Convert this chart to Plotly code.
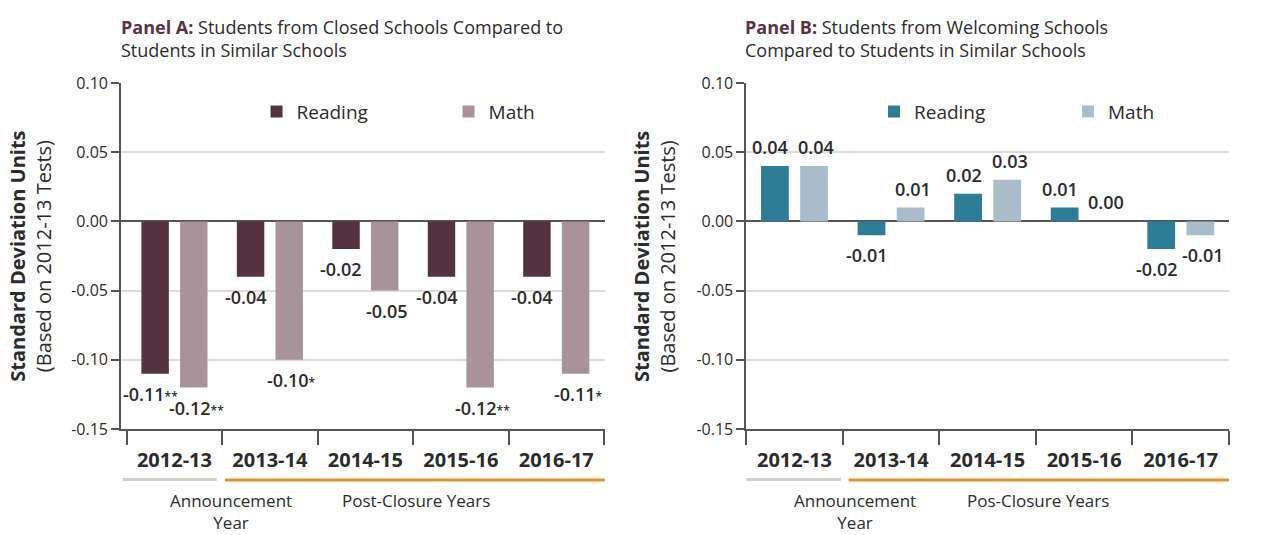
import plotly.graph_objects as go

# School years shown on both panels
years = ["2012-13", "2013-14", "2014-15", "2015-16", "2016-17"]

# Panel A: students from closed schools vs. students in similar schools
closed_reading = [-0.11, -0.04, -0.02, -0.04, -0.04]
closed_math = [-0.12, -0.10, -0.05, -0.12, -0.11]
closed_reading_sig = ["**", "", "", "", ""]
closed_math_sig = ["**", "*", "", "**", "*"]

# Panel B: students from welcoming schools vs. students in similar schools
welcoming_reading = [0.04, -0.01, 0.02, 0.01, -0.02]
welcoming_math = [0.04, 0.01, 0.03, 0.00, -0.01]
welcoming_reading_sig = ["", "", "", "", ""]
welcoming_math_sig = ["", "", "", "", ""]

y_ticks = [0.10, 0.05, 0.00, -0.05, -0.10, -0.15]

FONT = "Open Sans"
TEXT = "#2b2b2b"
AXIS = "#555555"
GRID = "#dcdcdc"
W, H = 1262, 535

A_COLORS = ("#55323f", "#a8939a")
B_COLORS = ("#2e7d96", "#a9bcca")

fig = go.Figure()


def px_x(p):
    return p / W


def px_y(p):
    return 1 - p / H


def add_panel(reading, math, colors, xa, ya, legend):
    xname = "x" if xa == 1 else f"x{xa}"
    yname = "y" if ya == 1 else f"y{ya}"
    for name, vals, col in (("Reading", reading, colors[0]), ("Math", math, colors[1])):
        fig.add_trace(go.Bar(
            x=years, y=vals, name=name, marker=dict(color=col, line=dict(width=0)),
            xaxis=xname, yaxis=yname, legend=legend, hoverinfo="skip",
        ))


def add_value_labels(reading, math, r_sig, m_sig, xref, yref):
    for vals, sigs, shift in ((reading, r_sig, -24), (math, m_sig, 22)):
        for yr, v, s in zip(years, vals, sigs):
            label = f"{v:.2f}"
            if s:
                label += f"<span style='font-size:12px'>{s}</span>"
            fig.add_annotation(
                x=yr, y=v, xref=xref, yref=yref, text=label, showarrow=False,
                xshift=shift, yshift=(-20 if v < 0 else 19),
                font=dict(family=FONT, size=18, color=TEXT, weight=600),
                xanchor="center", yanchor="middle",
            )


add_panel(closed_reading, closed_math, A_COLORS, 1, 1, "legend")
add_panel(welcoming_reading, welcoming_math, B_COLORS, 2, 2, "legend2")
add_value_labels(closed_reading, closed_math, closed_reading_sig, closed_math_sig, "x", "y")
add_value_labels(welcoming_reading, welcoming_math, welcoming_reading_sig, welcoming_math_sig, "x2", "y2")

y_dom = [px_y(436), px_y(75)]
x_dom_a = [px_x(124), px_x(620)]
x_dom_b = [px_x(765), px_x(1260)]

yaxis_common = dict(
    range=[-0.15, 0.10], tickvals=y_ticks, ticktext=[f"{t:.2f}" for t in y_ticks],
    showgrid=True, gridcolor=GRID, gridwidth=2,
    zeroline=True, zerolinecolor=AXIS, zerolinewidth=1.5,
    showline=True, linecolor=AXIS, linewidth=1.5,
    ticks="outside", ticklen=8, tickwidth=1.5, tickcolor=AXIS,
    tickfont=dict(family=FONT, size=16, color=TEXT), domain=y_dom, fixedrange=True,
)
xaxis_common = dict(
    showline=True, linecolor=AXIS, linewidth=1.5, ticks="outside", tickson="boundaries",
    ticklen=14, tickwidth=1.5, tickcolor=AXIS, ticklabelstandoff=12,
    tickfont=dict(family=FONT, size=20, color=TEXT, weight=700), fixedrange=True,
)

fig.update_layout(
    width=W, height=H, margin=dict(l=0, r=0, t=0, b=0),
    paper_bgcolor="white", plot_bgcolor="white",
    barmode="group", bargap=0.19, bargroupgap=0.29,
    showlegend=True,
    xaxis=dict(domain=x_dom_a, anchor="y", **xaxis_common),
    yaxis=dict(anchor="x", **yaxis_common),
    xaxis2=dict(domain=x_dom_b, anchor="y2", **xaxis_common),
    yaxis2=dict(anchor="x2", **yaxis_common),
    legend=dict(orientation="h", x=px_x(263), y=px_y(105), xanchor="left", yanchor="middle",
                entrywidth=147, entrywidthmode="pixels", bgcolor="rgba(0,0,0,0)",
                font=dict(family=FONT, size=19, color=TEXT)),
    legend2=dict(orientation="h", x=px_x(896), y=px_y(105), xanchor="left", yanchor="middle",
                 entrywidth=149, entrywidthmode="pixels", bgcolor="rgba(0,0,0,0)",
                 font=dict(family=FONT, size=19, color=TEXT)),
)

# Panel headings
TITLE_COLOR = "#5a3341"
titles = [
    (122, "Panel A:", "Students from Closed Schools Compared to<br>Students in Similar Schools"),
    (762, "Panel B:", "Students from Welcoming Schools<br>Compared to Students in Similar Schools"),
]
for x0, head, rest in titles:
    fig.add_annotation(
        x=px_x(x0), y=px_y(29), xref="paper", yref="paper", xanchor="left", yanchor="middle",
        align="left", showarrow=False,
        text=f"<span style='color:{TITLE_COLOR}'><b>{head}</b></span> {rest}",
        font=dict(family=FONT, size=18, color=TEXT),
    )

# Rotated y-axis titles
for x0 in (31, 671):
    fig.add_annotation(
        x=px_x(x0), y=px_y(256), xref="paper", yref="paper", textangle=-90,
        showarrow=False, xanchor="center", yanchor="middle",
        text="<b>Standard Deviation Units</b><br>(Based on 2012-13 Tests)",
        font=dict(family=FONT, size=20, color=TEXT),
    )

# Period brackets below the year labels
periods = [
    ("x domain", 0.004, 0.198, 0.215, 1.0, "Post-Closure Years", 0.609),
    ("x2 domain", 0.0, 0.196, 0.212, 1.0, "Pos-Closure Years", 0.604),
]
for xref, a0, a1, p0, p1, post_label, post_mid in periods:
    fig.add_shape(type="line", xref=xref, yref="paper", x0=a0, x1=a1,
                  y0=px_y(488.5), y1=px_y(488.5), line=dict(color="#cfcfca", width=3))
    fig.add_shape(type="line", xref=xref, yref="paper", x0=p0, x1=p1,
                  y0=px_y(489), y1=px_y(489), line=dict(color="#e0902a", width=3))
    fig.add_annotation(x=(a0 + a1) / 2 - 0.004, y=px_y(496), xref=xref, yref="paper",
                       text="Announcement<br>Year", showarrow=False, yanchor="top",
                       font=dict(family=FONT, size=17, color=TEXT))
    fig.add_annotation(x=post_mid, y=px_y(496), xref=xref, yref="paper",
                       text=post_label, showarrow=False, yanchor="top",
                       font=dict(family=FONT, size=17, color=TEXT))

fig.write_html("out.html")
